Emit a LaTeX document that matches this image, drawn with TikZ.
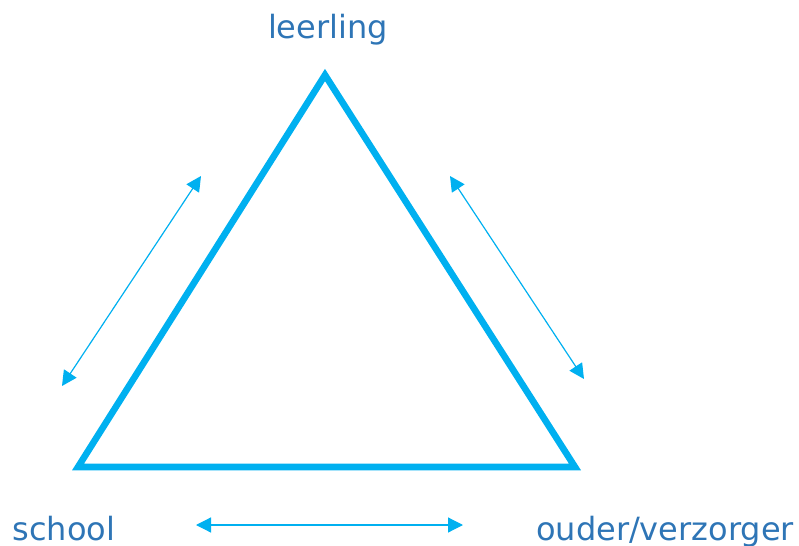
\documentclass[tikz,border=0pt]{standalone}
\usepackage{fontspec}
\setmainfont{DejaVu Sans}
\usetikzlibrary{arrows.meta}
\definecolor{lijnblauw}{HTML}{00B0F0}
\definecolor{tekstblauw}{HTML}{2E75B6}

\begin{document}
\begin{tikzpicture}[x=0.5pt, y=-0.5pt, >={Triangle[length=7.5pt,width=7.5pt]},
    label/.style={text=tekstblauw, font=\fontsize{16}{19}\selectfont, inner sep=0pt, anchor=base},
    pijl/.style={<->, lijnblauw, line width=0.6pt}]
        \useasboundingbox (0,0) rectangle (799,546);
        % hoeken van de driehoek
        \coordinate (top) at (325,75);
        \coordinate (links) at (78,467);
        \coordinate (rechts) at (575,467);
        \draw[lijnblauw, line width=3.3pt, line join=miter] (top) -- (rechts) -- (links) -- cycle;
        % labels
        \node[label] (leerling) at (328,39) {leerling};
        \node[label] (school) at (64,540) {school};
        \node[label] (ouder) at (665,540) {ouder/verzorger};
        % pijlen
        \coordinate (a1) at (201,176); \coordinate (a2) at (62,386);
        \coordinate (b1) at (450,176); \coordinate (b2) at (584,379);
        \coordinate (c1) at (196,525); \coordinate (c2) at (463,525);
        \draw[pijl] (a1) -- (a2);
        \draw[pijl] (b1) -- (b2);
        \draw[pijl] (c1) -- (c2);
    \end{tikzpicture}
\end{document}
